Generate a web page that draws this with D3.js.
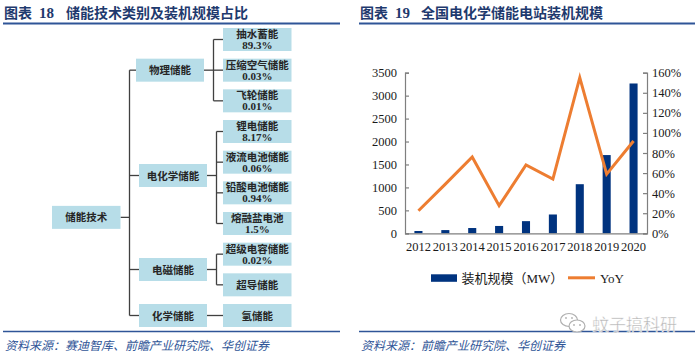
<!DOCTYPE html>
<html><head><meta charset="utf-8">
<script src="https://cdn.jsdelivr.net/npm/d3@7"></script>
<style>
html,body{margin:0;padding:0;background:#fff;}
svg{display:block;}
</style>
</head><body>
<svg id="c" width="700" height="356"></svg>
<script>
// ---------- data ----------
const leftTitleNo = "18";
const leftTitle = "储能技术类别及装机规模占比";
const rightTitleNo = "19";
const rightTitle = "全国电化学储能电站装机规模";
const leftSource = "资料来源：赛迪智库、前瞻产业研究院、华创证券";
const rightSource = "资料来源：前瞻产业研究院、华创证券";
const watermark = "蚊子搞科研";

const rootName = "储能技术";
const groupNames = ["物理储能", "电化学储能", "电磁储能", "化学储能"];
const leafNames = ["抽水蓄能", "压缩空气储能", "飞轮储能", "锂电储能", "液流电池储能", "铅酸电池储能", "熔融盐电池", "超级电容储能", "超导储能", "氢储能"];
const leafShares = ["89.3%", "0.03%", "0.01%", "8.17%", "0.06%", "0.94%", "1.5%", "0.02%", "", ""];
const leafGroup = [0, 0, 0, 1, 1, 1, 1, 2, 2, 3];

const years = ["2012", "2013", "2014", "2015", "2016", "2017", "2018", "2019", "2020"];
const capacityMW = [50, 70, 115, 160, 265, 410, 1070, 1705, 3265];
const yoyPct = [22.5, 49, 76, 27.5, 68, 54, 155, 59, 92];
const leftTicks = [0, 500, 1000, 1500, 2000, 2500, 3000, 3500];
const rightTicks = [0, 20, 40, 60, 80, 100, 120, 140, 160];
const legendBar = "装机规模（MW）";
const legendLine = "YoY";

// ---------- styles ----------
const CJK = "'Noto Sans CJK SC', sans-serif";
const SERIF = "'Liberation Serif', 'Noto Sans CJK SC', serif";
const titleColor = "#1f3a6e";
const ruleColor = "#2f5597";
const srcColor = "#2f5597";
const boxFill = "#b7dde8";
const connColor = "#404040";
const barColor = "#00337f";
const lineColor = "#ed7d31";
const axisColor = "#7f7f7f";

const svg = d3.select("#c");

// ---------- headers / footers ----------
function header(x0, x1, no, title, tx) {
  const t = svg.append("text").attr("y", 18).attr("fill", titleColor)
    .attr("font-family", CJK).attr("font-weight", 700).attr("font-size", 14);
  t.append("tspan").attr("x", x0 + 1).text("图表");
  t.append("tspan").attr("x", x0 + 36).attr("font-family", SERIF).attr("font-size", 15).text(no);
  t.append("tspan").attr("x", tx).text(title);
  svg.append("line").attr("x1", x0).attr("x2", x1).attr("y1", 23.5).attr("y2", 23.5)
    .attr("stroke", ruleColor).attr("stroke-width", 2);
}
function footer(x0, x1, src) {
  svg.append("line").attr("x1", x0).attr("x2", x1).attr("y1", 331.5).attr("y2", 331.5)
    .attr("stroke", ruleColor).attr("stroke-width", 1.5);
  svg.append("text").attr("x", x0 + 2).attr("y", 349.5).attr("fill", srcColor)
    .attr("font-family", CJK).attr("font-style", "italic").attr("font-size", 12)
    .attr("transform", `skewX(0)`)
    .text(src);
}
header(3, 340, leftTitleNo, leftTitle, 66);
header(359, 695, rightTitleNo, rightTitle, 421);

// ---------- tree diagram ----------
const boxH = 23;
const yLeaf = d3.scaleLinear().domain([0, leafNames.length - 1]).range([39.5, 315.5]);
const leafX = 223, leafW = 68.5;
const groupX = [136, 139, 139, 139], groupW = 68;
const rootX = 52, rootW = 68.5;
const trunkX = 129.5;
const branchX = [213.5, 216.5, 216.5, 216.5];

const groupY = groupNames.map((g, gi) => {
  const ys = leafNames.map((_, i) => i).filter(i => leafGroup[i] === gi).map(yLeaf);
  return gi === 0 ? ys[1] : d3.mean(ys) - (gi === 1 ? 2 : 0);
});
const rootY = yLeaf(5.8);

const conn = svg.append("g").attr("stroke", connColor).attr("stroke-width", 1.3).attr("fill", "none");
// root to trunk
conn.append("line").attr("x1", rootX + rootW).attr("x2", trunkX).attr("y1", rootY).attr("y2", rootY);
conn.append("line").attr("x1", trunkX).attr("x2", trunkX).attr("y1", groupY[0]).attr("y2", groupY[groupY.length - 1]);
groupNames.forEach((g, gi) => {
  conn.append("line").attr("x1", trunkX).attr("x2", groupX[gi]).attr("y1", groupY[gi]).attr("y2", groupY[gi]);
  const kids = leafNames.map((_, i) => i).filter(i => leafGroup[i] === gi);
  const ky = kids.map(yLeaf);
  if (kids.length > 1) {
    conn.append("line").attr("x1", groupX[gi] + groupW).attr("x2", branchX[gi]).attr("y1", groupY[gi]).attr("y2", groupY[gi]);
    conn.append("line").attr("x1", branchX[gi]).attr("x2", branchX[gi]).attr("y1", d3.min(ky)).attr("y2", d3.max(ky));
    ky.forEach(y => conn.append("line").attr("x1", branchX[gi]).attr("x2", leafX).attr("y1", y).attr("y2", y));
  } else {
    conn.append("line").attr("x1", groupX[gi] + groupW).attr("x2", leafX).attr("y1", groupY[gi]).attr("y2", groupY[gi]);
  }
});

function box(x, yc, w, lines) {
  svg.append("rect").attr("x", x).attr("y", yc - boxH / 2).attr("width", w).attr("height", boxH).attr("fill", boxFill);
  const t = svg.append("text").attr("text-anchor", "middle").attr("fill", "#262626")
    .attr("font-weight", 700).attr("font-size", 10.5);
  if (lines.length === 1 || !lines[1]) {
    t.attr("x", x + w / 2).attr("y", yc + 4).attr("font-family", CJK).text(lines[0]);
  } else {
    t.append("tspan").attr("x", x + w / 2).attr("y", yc - 1.5).attr("font-family", CJK).text(lines[0]);
    t.append("tspan").attr("x", x + w / 2).attr("y", yc + 9.5).attr("font-family", SERIF).attr("font-size", 11).text(lines[1]);
  }
}
box(rootX, rootY, rootW, [rootName]);
groupNames.forEach((g, gi) => box(groupX[gi], groupY[gi], groupW, [g]));
leafNames.forEach((n, i) => box(leafX, yLeaf(i), leafW, [n, leafShares[i]]));

// ---------- bar + line chart ----------
const L = 405, R = 647, T = 72.7, B = 233.3;
const x = d3.scaleBand().domain(years).range([L, R]).paddingInner(0.7).paddingOuter(0.35);
const yL = d3.scaleLinear().domain([0, 3500]).range([B, T]);
const yR = d3.scaleLinear().domain([0, 160]).range([B, T]);

svg.append("g").selectAll("rect").data(years).join("rect")
  .attr("x", d => x(d)).attr("width", x.bandwidth())
  .attr("y", (d, i) => yL(capacityMW[i])).attr("height", (d, i) => B - yL(capacityMW[i]))
  .attr("fill", barColor);

const line = d3.line().x((d, i) => x(years[i]) + x.bandwidth() / 2).y(d => yR(d));
svg.append("path").datum(yoyPct).attr("d", line).attr("fill", "none")
  .attr("stroke", lineColor).attr("stroke-width", 3).attr("stroke-linejoin", "miter");

const axL = svg.append("g").attr("transform", `translate(${L},0)`)
  .call(d3.axisRight(yL).tickValues(leftTicks).tickSize(4).tickFormat(d3.format("d")));
axL.selectAll("text").attr("x", -8).attr("text-anchor", "end");
const axR = svg.append("g").attr("transform", `translate(${R},0)`)
  .call(d3.axisLeft(yR).tickValues(rightTicks).tickSize(4).tickFormat(d => d + "%"));
axR.selectAll("text").attr("x", 5).attr("text-anchor", "start");
const axB = svg.append("g").attr("transform", `translate(0,${B})`)
  .call(d3.axisBottom(x).tickSize(0).tickPadding(9));
[axL, axR, axB].forEach(a => {
  a.select(".domain").attr("stroke", axisColor).attr("stroke-width", 1.2);
  a.selectAll(".tick line").attr("stroke", axisColor).attr("stroke-width", 1.2);
  a.selectAll("text").attr("font-family", SERIF).attr("font-size", 12.5).attr("fill", "#1a1a1a");
});

// legend
const lg = svg.append("g");
lg.append("rect").attr("x", 431).attr("y", 274.3).attr("width", 26).attr("height", 7.5).attr("fill", barColor);
lg.append("text").attr("x", 461.5).attr("y", 282.5).attr("font-family", SERIF).attr("font-size", 13)
  .attr("fill", "#1a1a1a").text(legendBar);
lg.append("line").attr("x1", 568).attr("x2", 595).attr("y1", 277.8).attr("y2", 277.8)
  .attr("stroke", lineColor).attr("stroke-width", 3);
lg.append("text").attr("x", 600).attr("y", 282.5).attr("font-family", SERIF).attr("font-size", 13)
  .attr("fill", "#1a1a1a").text(legendLine);

// footers
footer(3, 340, leftSource);
footer(359, 695, rightSource);

// watermark
const wm = svg.append("g").attr("fill", "none").attr("stroke", "#b0b0b0").attr("stroke-width", 1.2);
wm.append("ellipse").attr("cx", 569).attr("cy", 320).attr("rx", 8.5).attr("ry", 6.5).attr("fill", "#fff");
wm.append("ellipse").attr("cx", 577).attr("cy", 326).attr("rx", 8).attr("ry", 6).attr("fill", "#fff");
[[566, 318], [572, 318], [574, 325], [580, 325]].forEach(p =>
  wm.append("circle").attr("cx", p[0]).attr("cy", p[1]).attr("r", 0.9).attr("fill", "#b0b0b0").attr("stroke", "none"));
svg.append("text").attr("x", 592).attr("y", 331).attr("font-family", CJK).attr("font-size", 17)
  .attr("fill", "#b4b4b4").attr("stroke", "#fff").attr("stroke-width", 0.4).text(watermark);
</script>
</body></html>
